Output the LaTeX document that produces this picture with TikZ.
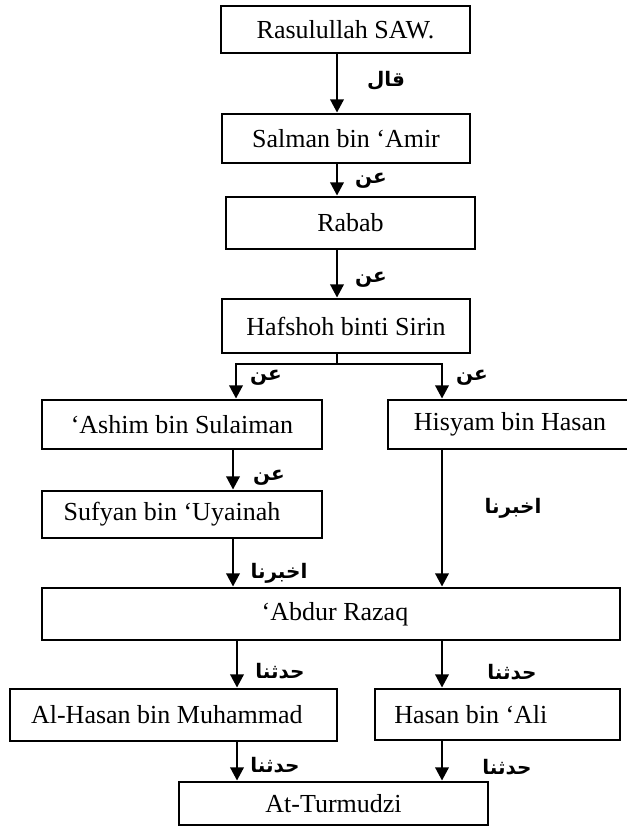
\documentclass[tikz,border=0pt]{standalone}
\usepackage{fontspec}
\setmainfont{Liberation Serif}
\newfontfamily\arabicfont[Script=Arabic]{DejaVu Sans}
\TeXXeTstate=1
\usetikzlibrary{fit,arrows.meta}
\begin{document}
\begin{tikzpicture}[x=0.75pt,y=-0.75pt,
  box/.style={draw, line width=2.1pt, inner sep=0pt, fit={#1}},
  ntext/.style={font=\fontsize{19.5}{23}\selectfont},
  conn/.style={line width=2.1pt},
  arr/.style={line width=2.1pt, -{Triangle[length=10pt,width=10pt]}},
  lab/.style={font=\arabicfont\bfseries\fontsize{15}{17}\selectfont, inner sep=0pt}]
\clip (0,0) rectangle (627,827);
\fill[white] (0,0) rectangle (627,827);
% boxes
\node[box={(221,6)(470,53)}, label={[ntext]center:Rasulullah SAW.}] (rasul) {};
\node[box={(222,114)(470,163)}, label={[ntext]center:Salman bin ‘Amir}] (salman) {};
\node[box={(226,197)(475,249)}, label={[ntext]center:Rabab}] (rabab) {};
\node[box={(222,299)(470,353)}, label={[ntext]center:Hafshoh binti Sirin}] (hafshoh) {};
\node[box={(42,400)(322,449)}, label={[ntext]center:‘Ashim bin Sulaiman}] (ashim) {};
\node[box={(388,400)(632,449)}, label={[ntext]center:Hisyam bin Hasan}] (hisyam) {};
\node[box={(42,491)(322,538)}, label={[ntext,xshift=-7.5pt]center:Sufyan bin ‘Uyainah}] (sufyan) {};
\node[box={(42,588)(620,640)}, label={[ntext,xshift=3pt]center:‘Abdur Razaq}] (abdur) {};
\node[box={(10,689)(337,741)}, label={[ntext,xshift=-5pt]center:Al-Hasan bin Muhammad}] (alhasan) {};
\node[box={(375,689)(620,740)}, label={[ntext,xshift=-20pt]center:Hasan bin ‘Ali}] (hasanali) {};
\node[box={(179,782)(488,825)}, label={[ntext]center:At-Turmudzi}] (turmudzi) {};
% column guides
\coordinate (xm) at (337,0);
\coordinate (xl) at (236,0);
\coordinate (xl2) at (233,0);
\coordinate (xl3) at (237,0);
\coordinate (xr) at (442,0);
\coordinate (br) at (337,364);
% connectors
\draw[arr] (rasul.south -| xm) -- (salman.north -| xm);
\draw[arr] (salman.south -| xm) -- (rabab.north -| xm);
\draw[arr] (rabab.south -| xm) -- (hafshoh.north -| xm);
\draw[conn] (hafshoh.south -| xm) -- (br);
\draw[arr] (br) -| (ashim.north -| xl);
\draw[arr] (br) -| (hisyam.north -| xr);
\draw[arr] (ashim.south -| xl2) -- (sufyan.north -| xl2);
\draw[arr] (sufyan.south -| xl2) -- (abdur.north -| xl2);
\draw[arr] (hisyam.south -| xr) -- (abdur.north -| xr);
\draw[arr] (abdur.south -| xl3) -- (alhasan.north -| xl3);
\draw[arr] (abdur.south -| xr) -- (hasanali.north -| xr);
\draw[arr] (alhasan.south -| xl3) -- (turmudzi.north -| xl3);
\draw[arr] (hasanali.south -| xr) -- (turmudzi.north -| xr);
% labels
\node[lab] (l1) at (386,81) {\beginR قال\endR};
\node[lab] (l2) at (371,181) {\beginR عن\endR};
\node[lab] (l3) at (371,280) {\beginR عن\endR};
\node[lab] (l4) at (266,378) {\beginR عن\endR};
\node[lab] (l5) at (472,378) {\beginR عن\endR};
\node[lab] (l6) at (269,478) {\beginR عن\endR};
\node[lab] (l7) at (513,508) {\beginR اخبرنا\endR};
\node[lab] (l8) at (279,573) {\beginR اخبرنا\endR};
\node[lab] (l9) at (280,671) {\beginR حدثنا\endR};
\node[lab] (l10) at (512,672) {\beginR حدثنا\endR};
\node[lab] (l11) at (275,765) {\beginR حدثنا\endR};
\node[lab] (l12) at (507,767) {\beginR حدثنا\endR};
\end{tikzpicture}
\end{document}
